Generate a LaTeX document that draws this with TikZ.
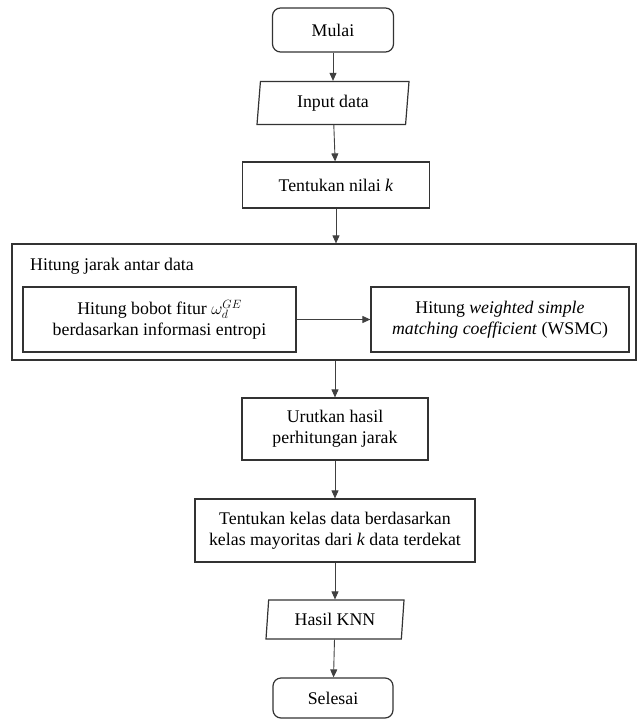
\documentclass[tikz,border=0pt]{standalone}
\usepackage{fontspec}
\setmainfont{Liberation Serif}
\usetikzlibrary{shapes.geometric,arrows.meta}

\tikzset{
    txt/.style={font=\fontsize{17.8}{21}\selectfont, align=center, inner sep=0pt},
    proses/.style={txt, draw=black!80, line width=1.2pt, rectangle},
    terminal/.style={proses, rounded corners=8pt},
    io/.style={txt, draw=black!80, line width=1.2pt, trapezium, trapezium left angle=78,
        trapezium right angle=102, trapezium stretches body},
    panah/.style={draw=black!75, line width=0.9pt, -{Triangle[length=8pt,width=7pt]}}
}

\begin{document}
\begin{tikzpicture}[x=1pt, y=-1pt]
    \useasboundingbox (0,0) rectangle (638,719);
    \node[terminal, minimum width=121pt, minimum height=44pt] (mulai) at (333,30) {Mulai};
    \node[io, minimum width=152pt, minimum height=43pt] (input) at (333,103) {Input data};
    \node[proses, minimum width=187pt, minimum height=46pt] (nilaik) at (336,185) {Tentukan nilai \textit{k}};
    \node[proses, minimum width=624pt, minimum height=116pt] (jarak) at (324,302) {};
    \node[txt, anchor=west] (judul) at (30,266) {Hitung jarak antar data};
    \node[proses, minimum width=273pt, minimum height=65pt] (bobot) at (159.5,319.5)
        {Hitung bobot fitur $\omega_d^{GE}$\\ berdasarkan informasi entropi};
    \node[proses, minimum width=258pt, minimum height=65pt] (wsmc) at (500,319.5)
        {Hitung \textit{weighted simple}\\ \textit{matching coefficient} (WSMC)};
    \node[proses, minimum width=186pt, minimum height=62pt] (urut) at (335,429)
        {Urutkan hasil\\ perhitungan jarak};
    \node[proses, minimum width=280pt, minimum height=63pt] (kelas) at (335,530.5)
        {Tentukan kelas data berdasarkan\\ kelas mayoritas dari \textit{k} data terdekat};
    \node[io, minimum width=138pt, minimum height=39pt] (hasil) at (335,619.5) {Hasil KNN};
    \node[terminal, minimum width=120pt, minimum height=40pt] (selesai) at (333,698) {Selesai};

    \draw[panah] (mulai) -- (input);
    \draw[panah] (input) -- (nilaik);
    \draw[panah] (nilaik) -- (nilaik |- jarak.north);
    \draw[panah] (bobot) -- (wsmc);
    \draw[panah] (urut |- jarak.south) -- (urut);
    \draw[panah] (urut) -- (kelas);
    \draw[panah] (kelas) -- (hasil);
    \draw[panah] (hasil) -- (selesai);
\end{tikzpicture}
\end{document}
